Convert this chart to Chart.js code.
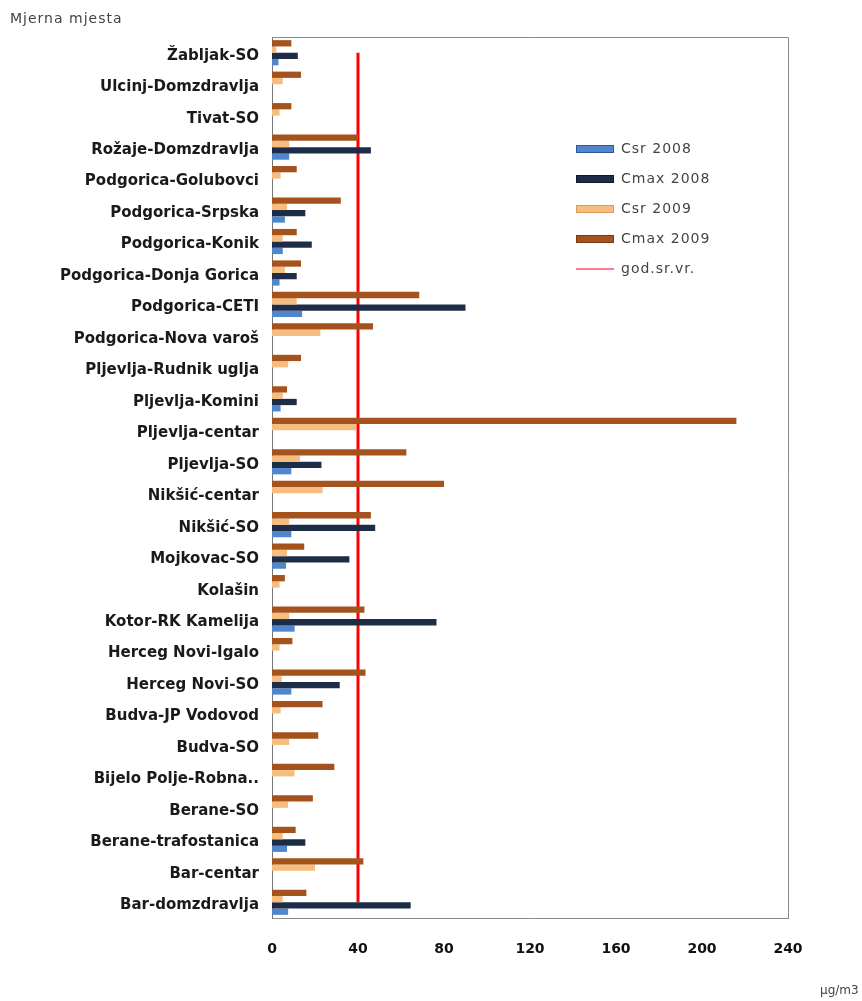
<!DOCTYPE html>
<html>
<head>
<meta charset="utf-8">
<script src="https://cdn.jsdelivr.net/npm/chart.js@4.4.0/dist/chart.umd.min.js"></script>
<style>
  body { margin: 0; background: #fff; }
  #wrap { position: relative; width: 862px; height: 1001px; }
</style>
</head>
<body>
<div id="wrap"><canvas id="chart" width="862" height="1001"></canvas></div>
<script>
const stations = ["Žabljak-SO", "Ulcinj-Domzdravlja", "Tivat-SO", "Rožaje-Domzdravlja", "Podgorica-Golubovci",
    "Podgorica-Srpska", "Podgorica-Konik", "Podgorica-Donja Gorica", "Podgorica-CETI", "Podgorica-Nova varoš",
    "Pljevlja-Rudnik uglja", "Pljevlja-Komini", "Pljevlja-centar", "Pljevlja-SO", "Nikšić-centar", "Nikšić-SO",
    "Mojkovac-SO", "Kolašin", "Kotor-RK Kamelija", "Herceg Novi-Igalo", "Herceg Novi-SO", "Budva-JP Vodovod",
    "Budva-SO", "Bijelo Polje-Robna..", "Berane-SO", "Berane-trafostanica", "Bar-centar", "Bar-domzdravlja"];

const csr2008  = [3, null, null, 8, null, 6, 5, 3.5, 14, null, null, 4, null, 9, null, 9, 6.5, null, 10.5, null, 9, null, null, null, null, 7, null, 7.5];
const cmax2008 = [12, null, null, 46, null, 15.5, 18.5, 11.5, 90, null, null, 11.5, null, 23, null, 48, 36, null, 76.5, null, 31.5, null, null, null, null, 15.5, null, 64.5];
const csr2009  = [2, 5, 3.5, 8, 4, 7, 5, 6, 11.5, 22.5, 7.5, 5, 39, 13, 23.5, 8, 7, 3.5, 8, 3.5, 4.5, 4, 8, 10.5, 7.5, 5, 20, 5];
const cmax2009 = [9, 13.5, 9, 40, 11.5, 32, 11.5, 13.5, 68.5, 47, 13.5, 7, 216, 62.5, 80, 46, 15, 6, 43, 9.5, 43.5, 23.5, 21.5, 29, 19, 11, 42.5, 16];
const limitValue = 40;
const limitLine = stations.map(() => limitValue);
const xTicks = [0, 40, 80, 120, 160, 200, 240];

// legend order as in the original (bars are drawn top-down in reverse)
const legendOrder = ["Csr 2008", "Cmax 2008", "Csr 2009", "Cmax 2009", "god.sr.vr."];

const boxAndLegend = {
    id: 'boxAndLegend',
    afterDraw(chart) {
        const ctx = chart.ctx;
        const a = chart.chartArea;
        ctx.save();
        ctx.strokeStyle = '#8a8a8a';
        ctx.lineWidth = 1;
        ctx.beginPath();
        ctx.moveTo(a.left, a.top + 0.5);
        ctx.lineTo(a.right + 0.5, a.top + 0.5);
        ctx.lineTo(a.right + 0.5, a.bottom);
        ctx.stroke();

        // legend
        ctx.font = '14px "DejaVu Sans", sans-serif';
        ctx.letterSpacing = '1px';
        ctx.textBaseline = 'middle';
        legendOrder.forEach((name, i) => {
            const ds = chart.data.datasets.find(d => d.label === name);
            const y = 149 + i * 30;
            if (ds.type === 'line') {
                ctx.strokeStyle = '#ff7b8a';
                ctx.lineWidth = 2;
                ctx.beginPath();
                ctx.moveTo(576, y);
                ctx.lineTo(614, y);
                ctx.stroke();
            } else {
                ctx.fillStyle = ds.backgroundColor;
                ctx.fillRect(576, y - 3, 38, 6);
                ctx.strokeStyle = ds.borderColor;
                ctx.lineWidth = 1;
                ctx.strokeRect(576.5, y - 3.5, 37, 7);
            }
            ctx.fillStyle = '#444';
            ctx.fillText(name, 621, y);
        });

        ctx.font = '14px "DejaVu Sans", sans-serif';
        ctx.letterSpacing = '1px';
        ctx.fillStyle = '#444';
        ctx.textAlign = 'left';
        ctx.fillText('Mjerna mjesta', 10, 19);
        ctx.font = '12px "DejaVu Sans", sans-serif';
        ctx.letterSpacing = '0px';
        ctx.fillText('μg/m3', 820, 991);
        ctx.restore();
    }
};

const ctx = document.getElementById('chart').getContext('2d');
new Chart(ctx, {
    type: 'bar',
    data: {
        labels: stations,
        datasets: [
            { label: 'Cmax 2009', data: cmax2009, backgroundColor: '#a4531c', borderColor: '#7a3a10', borderWidth: 0 },
            { label: 'Csr 2009', data: csr2009, backgroundColor: '#f7bd7e', borderColor: '#d99a5a', borderWidth: 0 },
            { label: 'Cmax 2008', data: cmax2008, backgroundColor: '#1e2d47', borderColor: '#111a2c', borderWidth: 0 },
            { label: 'Csr 2008', data: csr2008, backgroundColor: '#4f86cc', borderColor: '#2f5a93', borderWidth: 0 },
            { label: 'god.sr.vr.', type: 'line', data: limitLine, borderColor: '#ff0000', borderWidth: 3,
              pointRadius: 0, fill: false, tension: 0 }
        ]
    },
    options: {
        indexAxis: 'y',
        responsive: false,
        animation: false,
        devicePixelRatio: 1,
        layout: { padding: { top: 37, right: 74, left: 0, bottom: 0 } },
        datasets: {
            bar: { categoryPercentage: 0.8, barPercentage: 1.0 }
        },
        plugins: {
            legend: { display: false },
            tooltip: { enabled: false }
        },
        scales: {
            x: {
                min: 0,
                max: 240,
                afterBuildTicks: (scale) => { scale.ticks = xTicks.map(v => ({ value: v })); },
                afterFit: (scale) => { scale.height = 83; },
                grid: { display: false },
                border: { display: true, color: '#8a8a8a' },
                ticks: {
                    padding: 15,
                    color: '#111',
                    font: { family: '"DejaVu Sans", sans-serif', size: 14, weight: 'bold' }
                }
            },
            y: {
                afterFit: (scale) => { scale.width = 272; },
                grid: { display: false },
                border: { display: true, color: '#777' },
                ticks: {
                    padding: 5,
                    labelOffset: 3,
                    autoSkip: false,
                    color: '#1a1a1a',
                    font: { family: '"DejaVu Sans", sans-serif', size: 15, weight: 'bold' }
                }
            }
        }
    },
    plugins: [boxAndLegend]
});
</script>
</body>
</html>
